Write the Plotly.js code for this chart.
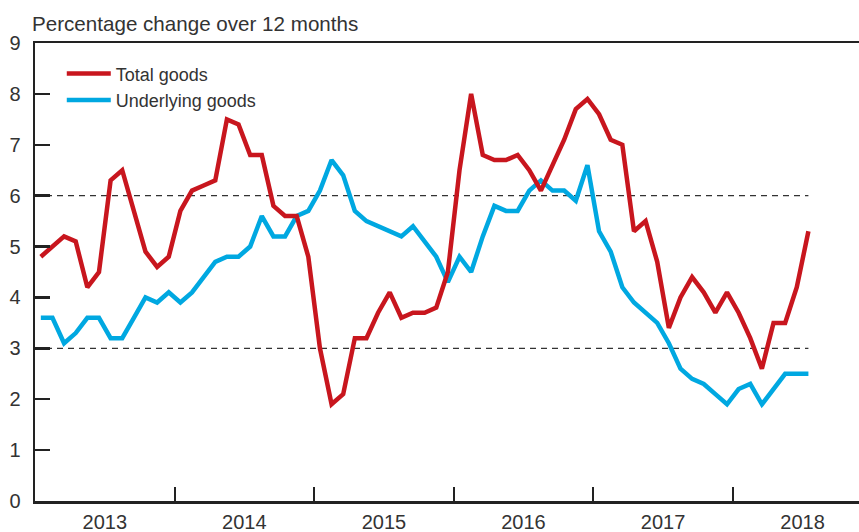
<!DOCTYPE html>
<html>
<head>
<meta charset="utf-8">
<script src="https://cdn.plot.ly/plotly-3.0.1.min.js"></script>
<style>
html,body{margin:0;padding:0;background:#fff;}
#chart{width:859px;height:532px;}
</style>
</head>
<body>
<div id="chart"></div>
<script>
// Monthly observations, Jan 2013 .. Jul 2018
const months = [
  '2013-01','2013-02','2013-03','2013-04','2013-05','2013-06','2013-07','2013-08','2013-09','2013-10','2013-11','2013-12',
  '2014-01','2014-02','2014-03','2014-04','2014-05','2014-06','2014-07','2014-08','2014-09','2014-10','2014-11','2014-12',
  '2015-01','2015-02','2015-03','2015-04','2015-05','2015-06','2015-07','2015-08','2015-09','2015-10','2015-11','2015-12',
  '2016-01','2016-02','2016-03','2016-04','2016-05','2016-06','2016-07','2016-08','2016-09','2016-10','2016-11','2016-12',
  '2017-01','2017-02','2017-03','2017-04','2017-05','2017-06','2017-07','2017-08','2017-09','2017-10','2017-11','2017-12',
  '2018-01','2018-02','2018-03','2018-04','2018-05','2018-06','2018-07'
];

const totalGoods = [
  4.8,5.0,5.2,5.1,4.2,4.5,6.3,6.5,5.7,4.9,4.6,4.8,
  5.7,6.1,6.2,6.3,7.5,7.4,6.8,6.8,5.8,5.6,5.6,4.8,
  3.0,1.9,2.1,3.2,3.2,3.7,4.1,3.6,3.7,3.7,3.8,4.5,
  6.5,8.0,6.8,6.7,6.7,6.8,6.5,6.1,6.6,7.1,7.7,7.9,
  7.6,7.1,7.0,5.3,5.5,4.7,3.4,4.0,4.4,4.1,3.7,4.1,
  3.7,3.2,2.6,3.5,3.5,4.2,5.3
];

const underlyingGoods = [
  3.6,3.6,3.1,3.3,3.6,3.6,3.2,3.2,3.6,4.0,3.9,4.1,
  3.9,4.1,4.4,4.7,4.8,4.8,5.0,5.6,5.2,5.2,5.6,5.7,
  6.1,6.7,6.4,5.7,5.5,5.4,5.3,5.2,5.4,5.1,4.8,4.3,
  4.8,4.5,5.2,5.8,5.7,5.7,6.1,6.3,6.1,6.1,5.9,6.6,
  5.3,4.9,4.2,3.9,3.7,3.5,3.1,2.6,2.4,2.3,2.1,1.9,
  2.2,2.3,1.9,2.2,2.5,2.5,2.5
];

const yearLabels = ['2013','2014','2015','2016','2017','2018'];
const yTicks = [0,1,2,3,4,5,6,7,8,9];
const refLines = [3, 6];
const seriesNames = ['Total goods','Underlying goods'];
const seriesColors = ['#c8161e','#00a8e1'];

// positions on the month-index axis
const xIdx = months.map((m, i) => i);
const yearBounds = yearLabels.slice(1).map((y, k) => 12 * (k + 1) - 0.5);
const yearMid = yearLabels.map((y, k) => 12 * k + 5.5);
const xRange = [-0.5, 70.35];

const traces = [
  {
    x: xIdx, y: underlyingGoods, name: seriesNames[1], type: 'scatter', mode: 'lines',
    line: {color: seriesColors[1], width: 4.5}, hoverinfo: 'skip'
  },
  {
    x: xIdx, y: totalGoods, name: seriesNames[0], type: 'scatter', mode: 'lines',
    line: {color: seriesColors[0], width: 4.5}, hoverinfo: 'skip'
  },
  {
    x: yearMid, y: yearMid.map(() => null), xaxis: 'x2', type: 'scatter', mode: 'lines',
    showlegend: false, hoverinfo: 'skip'
  }
];

const axisColor = '#222';
const textColor = '#333';

const layout = {
  width: 859, height: 532,
  margin: {l: 35, r: 0, t: 43, b: 31, pad: 0},
  paper_bgcolor: '#fff', plot_bgcolor: '#fff',
  font: {family: '"Liberation Sans", Arial, Helvetica, sans-serif', size: 20, color: textColor},
  title: {
    text: 'Percentage change over 12 months',
    x: 32 / 859, xanchor: 'left', xref: 'container',
    y: 1 - 23.5 / 532, yanchor: 'middle', yref: 'container',
    font: {size: 20.6, color: textColor}
  },
  showlegend: true,
  legend: {
    x: 0.0325, y: 0.973, xanchor: 'left', yanchor: 'top',
    bgcolor: 'rgba(0,0,0,0)', borderwidth: 0,
    font: {size: 18, color: textColor},
    traceorder: 'reversed', itemwidth: 44
  },
  xaxis: {
    range: xRange, tickmode: 'array', tickvals: yearBounds,
    ticks: 'inside', ticklen: 14, tickwidth: 2, tickcolor: axisColor,
    showticklabels: false, showline: true, linecolor: axisColor, linewidth: 2.5,
    mirror: true, showgrid: false, zeroline: false, fixedrange: true
  },
  xaxis2: {
    overlaying: 'x', side: 'bottom', range: xRange,
    tickmode: 'array', tickvals: yearMid, ticktext: yearLabels,
    ticks: '', showline: false, showgrid: false, zeroline: false,
    ticklabelstandoff: 7, tickfont: {size: 20, color: textColor}, fixedrange: true
  },
  yaxis: {
    range: [0, 9], tickmode: 'array', tickvals: yTicks,
    ticks: 'inside', ticklen: 15, tickwidth: 2.5, tickcolor: axisColor,
    showline: true, linecolor: axisColor, linewidth: 2.5,
    showgrid: false, zeroline: false, ticklabelstandoff: 8,
    tickfont: {size: 20, color: textColor}, fixedrange: true
  },
  shapes: refLines.map(v => ({
    type: 'line', xref: 'x', yref: 'y',
    x0: xRange[0], x1: xIdx[xIdx.length - 1], y0: v, y1: v,
    line: {color: '#333', width: 1.2, dash: '6px,5px'}, layer: 'below'
  }))
};

Plotly.newPlot('chart', traces, layout, {staticPlot: true, displayModeBar: false});
</script>
</body>
</html>
